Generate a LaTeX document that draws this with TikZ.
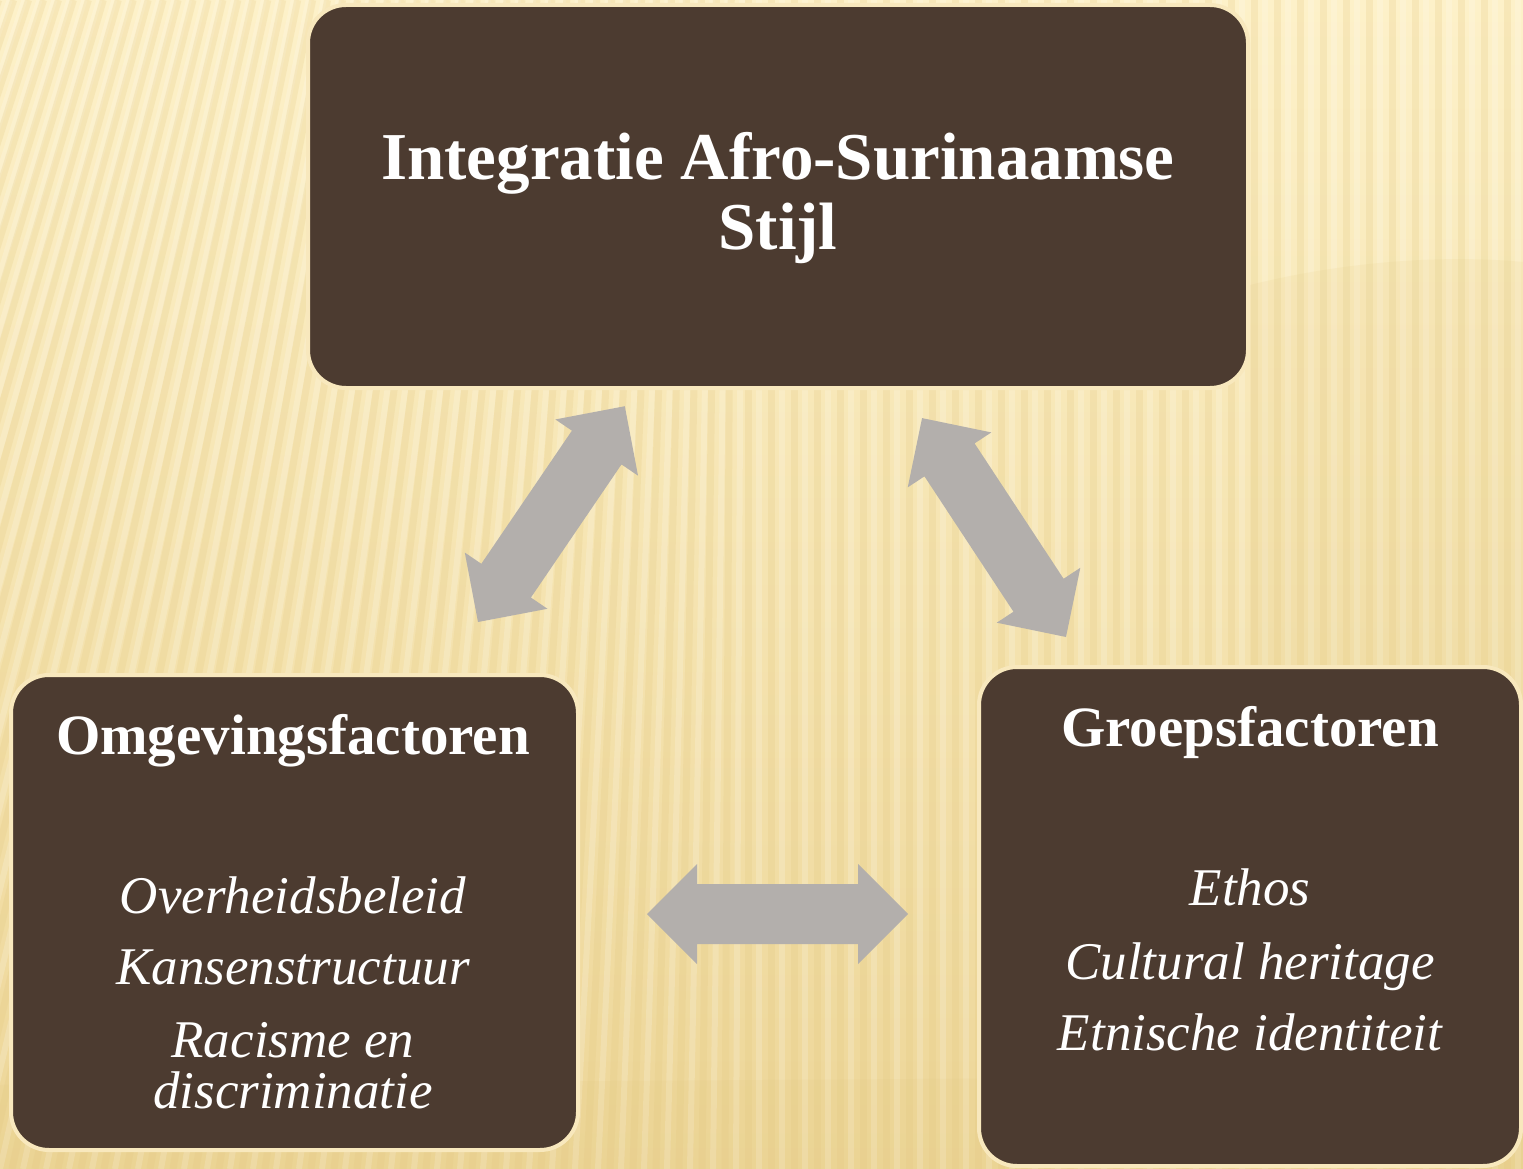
\documentclass[tikz,border=0pt]{standalone}
\usepackage{fontspec}
\setmainfont{Liberation Serif}
\definecolor{boxfill}{HTML}{4C3B30}
\definecolor{boxrim}{HTML}{F8E8BD}
\definecolor{arrowfill}{HTML}{B3AFAC}
\definecolor{bgtop}{HTML}{FDF1C9}
\definecolor{bgmid}{HTML}{FAEBBB}
\definecolor{bgbot}{HTML}{EDD698}
\definecolor{stripecol}{HTML}{E2C77E}
\newcommand\dblarr[3]{%
  \begin{scope}[shift={(#1)},rotate=#2]
    \fill[arrowfill] (0,0) -- (50,50) -- (50,30) -- (#3-50,30) -- (#3-50,50) -- (#3,0)
      -- (#3-50,-50) -- (#3-50,-30) -- (50,-30) -- (50,-50) -- cycle;
  \end{scope}}
\tikzset{
  panel/.style={fill=boxfill, draw=boxrim, line width=4pt, rounded corners=38pt},
  titletext/.style={text=white, font=\fontsize{67}{68}\selectfont\bfseries, anchor=base, inner sep=0pt},
  headtext/.style={text=white, font=\fontsize{57}{60}\selectfont\bfseries, anchor=base, inner sep=0pt},
  itemtext/.style={text=white, font=\fontsize{53}{55}\selectfont\itshape, anchor=base, inner sep=0pt},
  stripe/.style={draw=stripecol, line width=7pt, opacity=0.22},
  lightstripe/.style={draw=white, line width=6pt, opacity=0.18},
}
\begin{document}
\begin{tikzpicture}[x=1pt, y=-1pt]
\useasboundingbox (0,0) rectangle (1523,1169);
% background
\shade[top color=bgtop, middle color=bgmid, bottom color=bgbot] (0,0) rectangle (1523,1169);
\begin{scope}
  \clip (0,0) rectangle (1523,1169);
  \foreach \k in {-20,...,74} {
    \pgfmathsetmacro\xb{\k*23-80}
    \pgfmathsetmacro\tl{max(0,260-0.35*\xb)}
    \draw[stripe] (\xb,1169) -- (\xb+\tl,0);
    \draw[lightstripe] (\xb+11,1169) -- (\xb+11+\tl,0);
  }
  \fill[stripecol, opacity=0.12] (1250,285) .. controls (1350,260) and (1450,255) .. (1523,262) -- (1523,1169) -- (1250,1169) -- cycle;
  \fill[stripecol, opacity=0.12] (0,1085) -- (1523,1075) -- (1523,1169) -- (0,1169) -- cycle;
\end{scope}
% boxes
\path[panel] (308,5) rectangle (1248,388);
\node (topbox) at (778,196) {};
\path[panel] (11,675) rectangle (578,1150);
\node (leftbox) at (294,912) {};
\path[panel] (979,667) rectangle (1521,1166);
\node (rightbox) at (1250,916) {};
% texts
\node[titletext] (t1) at (778,180) {Integratie Afro-Surinaamse};
\node[titletext] (t2) at (778,249) {Stijl};
\node[headtext] (lh) at (293,754) {Omgevingsfactoren};
\node[itemtext] (l1) at (293,913) {Overheidsbeleid};
\node[itemtext] (l2) at (293,984) {Kansenstructuur};
\node[itemtext] (l3) at (293,1057) {Racisme en};
\node[itemtext] (l4) at (293,1108) {discriminatie};
\node[headtext] (rh) at (1250,746) {Groepsfactoren};
\node[itemtext] (r1) at (1250,905) {Ethos};
\node[itemtext] (r2) at (1250,979) {Cultural heritage};
\node[itemtext] (r3) at (1250,1050) {Etnische identiteit};
% arrows
\coordinate (a1s) at (478,622);
\coordinate (a2s) at (1066,637);
\coordinate (a3s) at (647,914);
\dblarr{a1s}{55.77}{261}
\dblarr{a2s}{123.33}{262}
\dblarr{a3s}{0}{261}
\end{tikzpicture}
\end{document}
